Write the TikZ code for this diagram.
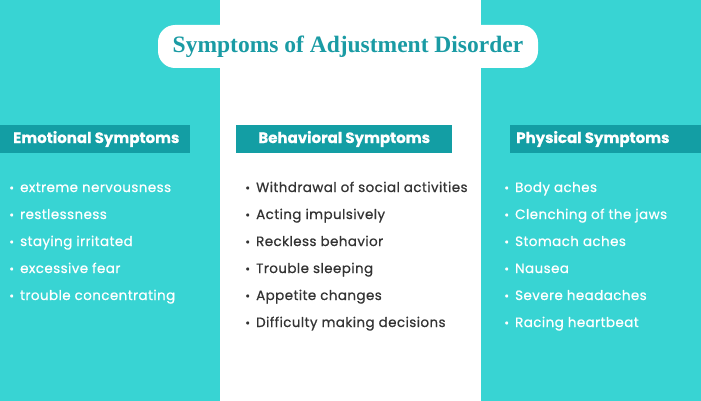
\documentclass[tikz,border=0pt]{standalone}
\usepackage{fontspec}
\setmainfont{Poppins}[FakeBold=0.6]
\newfontfamily\bodyfont{Poppins}[FakeBold=0.6,LetterSpace=3]
\newfontfamily\titlefont{Liberation Serif}
\usetikzlibrary{positioning}
\definecolor{panel}{HTML}{38D4D3}
\definecolor{headbg}{HTML}{139EA4}
\definecolor{titletext}{HTML}{1A9BA4}
\definecolor{itemtext}{HTML}{333333}
\tikzset{
  head/.style={fill=headbg,text=white,font=\fontsize{15}{17}\selectfont\bfseries,
    minimum height=27pt,inner sep=0pt,anchor=west},
  item/.style={font=\bodyfont\fontsize{13.5}{15}\selectfont,anchor=base west,inner sep=0pt},
}
\begin{document}
\begin{tikzpicture}[x=1pt,y=-1pt]
  \useasboundingbox (0,0) rectangle (701,401);
  % panels
  \fill[panel] (0,0) rectangle (220,401);
  \fill[panel] (481,0) rectangle (701,401);
  \node[fill=white,rounded corners=17pt,minimum width=380pt,minimum height=43pt,
    text=titletext,font=\titlefont\fontsize{23.5}{26}\selectfont\bfseries] (title) at (348,46.5)
    {Symptoms of Adjustment Disorder};
  % headers
  \node[head] (emo) at (0,139)
    {\makebox[190pt][l]{\hspace*{13pt}Emotional Symptoms}};
  \node[head,minimum width=216pt] (beh) at (236,139) {Behavioral Symptoms};
  \node[head] (phy) at (510,139)
    {\makebox[191pt][l]{\hspace*{6pt}Physical Symptoms}};
  % lists
  \foreach \t [count=\i] in {extreme nervousness,restlessness,staying irritated,
      excessive fear,trouble concentrating}
    \node[item,text=white] (e\i) at (9,165+27*\i) {{\large\textbullet}\hspace{6pt}\t};
  \foreach \t [count=\i] in {Withdrawal of social activities,Acting impulsively,
      Reckless behavior,Trouble sleeping,Appetite changes,Difficulty making decisions}
    \node[item,text=itemtext] (b\i) at (245,165+27*\i) {{\large\textbullet}\hspace{6pt}\t};
  \foreach \t [count=\i] in {Body aches,Clenching of the jaws,Stomach aches,
      Nausea,Severe headaches,Racing heartbeat}
    \node[item,text=white] (p\i) at (504,165+27*\i) {{\large\textbullet}\hspace{6pt}\t};
\end{tikzpicture}
\end{document}
